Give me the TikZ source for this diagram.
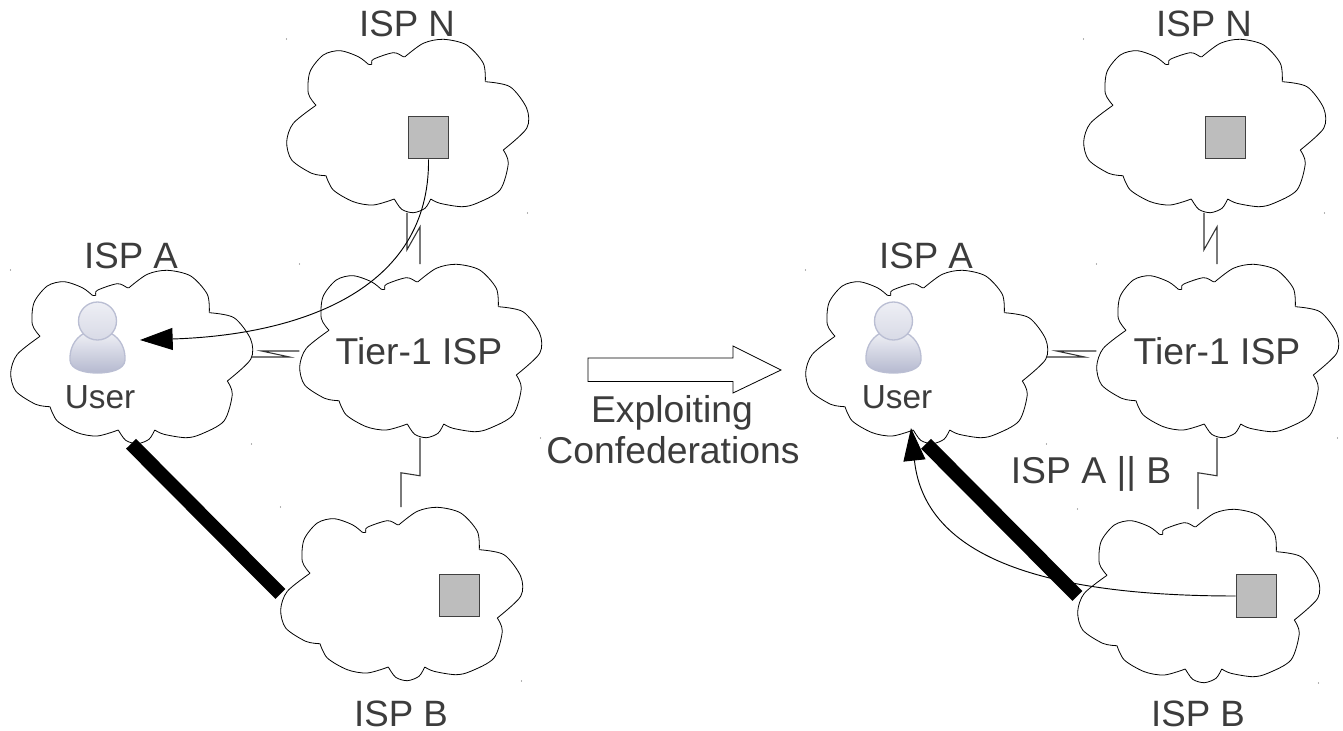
\documentclass[tikz,border=0pt]{standalone}
\usepackage{fontspec}
\setmainfont{Liberation Sans}
\usetikzlibrary{arrows.meta}
\definecolor{labelgray}{HTML}{3C3C3C}
\definecolor{boxgray}{HTML}{BDBDBD}
\definecolor{userrim}{HTML}{BABED3}
\definecolor{usertop}{HTML}{EEEFF5}
\definecolor{usermid}{HTML}{B9BDD1}
\definecolor{userlow}{HTML}{B5B9CF}
\definecolor{headmid}{HTML}{CDD0DE}
\definecolor{headlow}{HTML}{D8DAE6}
\tikzset{
	cloudbox/.style={minimum width=180.5pt, minimum height=129.75pt, inner sep=0pt},
	cloudline/.style={line width=.6pt, smooth, tension=.5},
	wire/.style={line width=.8pt, draw=black!80},
	trunk/.style={line width=10.5pt},
	route/.style={line width=.7pt, -{Triangle[length=24.5pt, width=16.5pt]}},
	asbox/.style={draw=black!75, fill=boxgray, line width=.8pt, minimum width=30.5pt, minimum height=32pt, inner sep=0pt},
	isplabel/.style={text=labelgray, font=\fontsize{27.5}{30}\selectfont, inner sep=0pt},
	biglabel/.style={text=labelgray, font=\fontsize{28}{30}\selectfont, inner sep=0pt},
	userlabel/.style={text=labelgray, font=\fontsize{25}{28}\selectfont, inner sep=0pt},
	pics/ispcloud/.style={code={
		\draw[cloudline] plot coordinates {(-91,-20.7) (-98.7,-32.7) (-97,-54.3) (-83.7,-71) (-67,-75.3) (-48.7,-69.3) (-38.7,-61.7)};
		\draw[cloudline] plot coordinates {(-38.7,-61.7) (-35.3,-61.7) (-33.7,-66.7) (-13.7,-73.3) (-3.7,-69.3) (-2,-69.3)};
		\draw[cloudline] plot coordinates {(-2,-69.3) (16.3,-82.7) (36.3,-86.7) (59.7,-81) (76.3,-62.7) (78.3,-44.3)};
		\draw[cloudline] plot coordinates {(78.3,-44.3) (103,-39.3) (119.7,-17.7) (119.7,2.3) (96.3,24)};
		\draw[cloudline] plot coordinates {(96.3,24) (101.3,37.3) (93,64) (69.7,77.3) (54.7,80.7) (33,77.3) (23.7,73)};
		\draw[cloudline] plot coordinates {(23.7,73) (18,82.3) (6.3,86.7) (-5.3,83.3) (-12.7,73)};
		\draw[cloudline] plot coordinates {(-12.7,73) (-33.7,79) (-53.7,75.7) (-73.7,64) (-81,49.7)};
		\draw[cloudline] plot coordinates {(-81,49.7) (-95.3,47.3) (-115.3,34) (-120.3,15.7) (-113.7,-2.7) (-91,-20.7)};
		\fill[black!60] (-120.5,-87) circle (.4pt) (120.5,87) circle (.4pt);
	}},
	pics/usericon/.style={code={
		\shade[top color=usertop, middle color=usermid, bottom color=userlow, draw=userrim, line width=1pt]
			(-13,-5) .. controls (-24,1) and (-28,12) .. (-27.5,22) .. controls (-27,32) and (-12,35) .. (0,35)
			.. controls (12,35) and (27,32) .. (27.5,22) .. controls (28,12) and (24,1) .. (13,-5) -- cycle;
		\shade[top color=usertop, middle color=headmid, bottom color=headlow, draw=userrim, line width=1pt] (0,-17) circle (19);
	}}
}
\begin{document}
\begin{tikzpicture}[x=.75pt, y=-.75pt]
	\useasboundingbox (0,0) rectangle (1343,731);
	% the clouds
	\foreach \n/\x/\y in {NL/407/126, TL/420/351, AL/131/357, BL/401/594, NR/1204/126, TR/1217/351, AR/926/357, BR/1198/596}{
		\node[cloudbox] (\n) at (\x,\y) {};
		\pic at (\n) {ispcloud};
	}
	\foreach \u/\v in {NL/TL, NR/TR}{
		\draw[wire] (\u.south)--++(0,37)--++(13,-23)--(\v.north);
	}
	\foreach \u/\v in {TL/BL, TR/BR}{
		\draw[wire] (\u.south)--++(0,38)--++(-19,-3)--(\v.north);
	}
	\foreach \u/\v in {AL/TL, AR/TR}{
		\draw[wire] (\u.east)--++(38,0)--++(-28,-6)--(\v.west);
	}
	\draw[trunk] (AL.south)--(BL.west);
	\draw[trunk] (AR.south)--(BR.west);
	% routers
	\foreach \n/\x/\y in {asNL/428.5/137.5, asBL/459.5/595.5, asNR/1225.5/137.5, asBR/1256.5/596}{
		\node[asbox] (\n) at (\x,\y) {};
	}
	% users
	\pic at (97.5,338) {usericon};
	\pic at (893.5,338) {usericon};
	\path (140,340) coordinate (uL) (911,428) coordinate (uR);
	\draw[route] (asNL.south) .. controls (430,290) and (300,335) .. (uL);
	\draw[route] (asBR.west) .. controls (1050,596) and (925,560) .. (uR);
	% big arrow
	\draw[line width=.6pt] (588,358)--(733,358)--(733,346)--(781,370)--(733,393)--(733,381.5)--(588,381.5)--cycle;
	% labels
	\foreach \n/\x/\y/\t in {lNL/407/24/ISP N, lAL/131/256/ISP A, lBL/401/714/ISP B,
		lNR/1204/24/ISP N, lAR/926/256/ISP A, lBR/1198/714/ISP B}{
		\node[isplabel] (\n) at (\x,\y) {\t};
	}
	\foreach \n/\x/\y/\t in {lTL/419/351/Tier-1 ISP, lTR/1217/351/Tier-1 ISP,
		lAB/1091/474/ISP A || B, lEx/672/412.5/Exploiting, lCo/673/450/Confederations}{
		\node[biglabel] (\n) at (\x,\y) {\t};
	}
	\node[userlabel] (lUL) at (100,397) {User};
	\node[userlabel] (lUR) at (897,397) {User};
\end{tikzpicture}
\end{document}
